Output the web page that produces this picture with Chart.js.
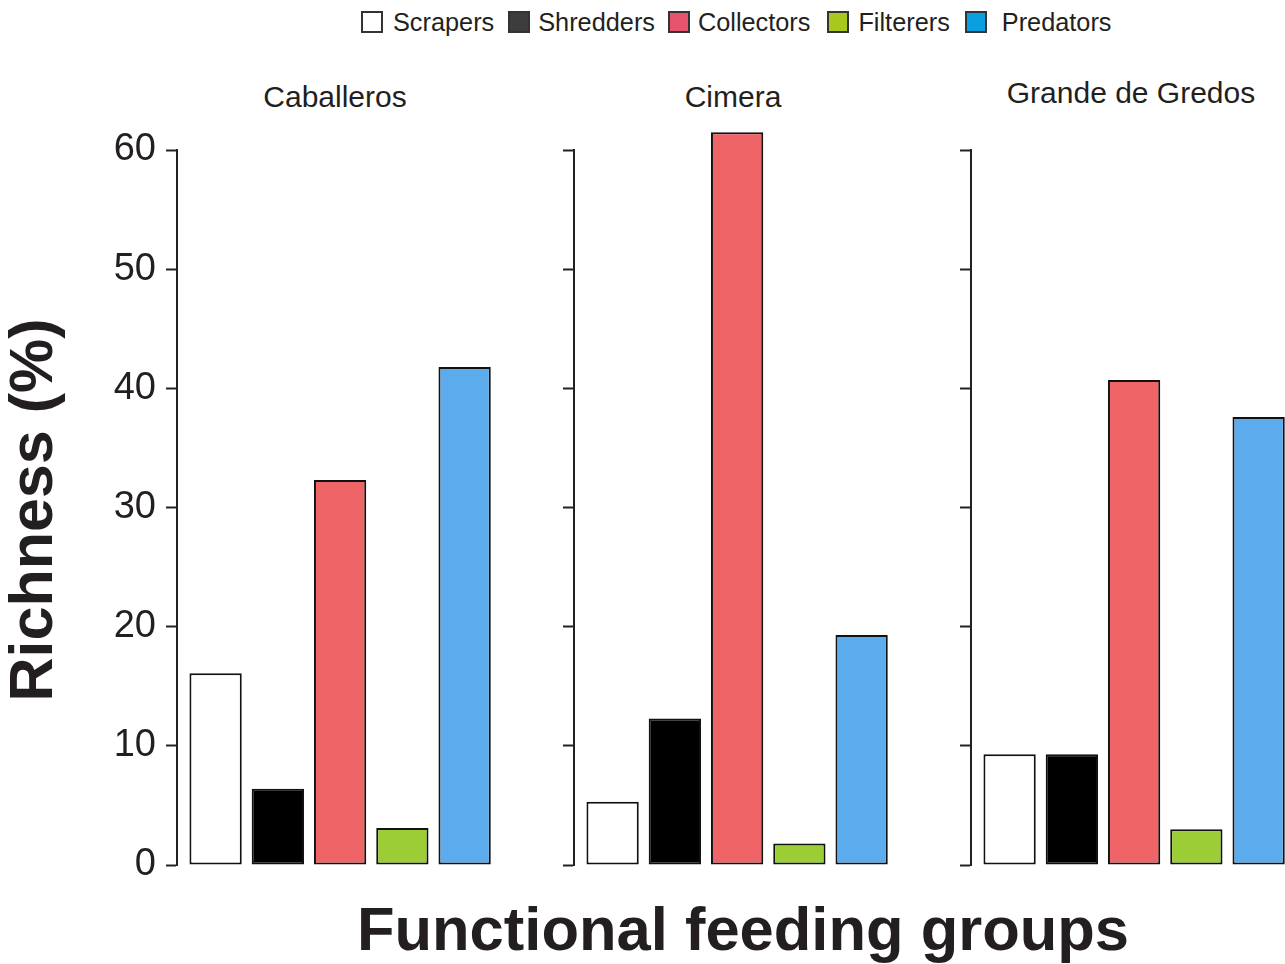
<!DOCTYPE html>
<html>
<head>
<meta charset="utf-8">
<script src="https://cdn.jsdelivr.net/npm/chart.js@4"></script>
<style>
  html, body { margin: 0; padding: 0; background: #fff; overflow: hidden; }
  body { width: 1285px; height: 964px; position: relative; font-family: "Liberation Sans", Arial, sans-serif; color: #231f20; }
  canvas.panel { position: absolute; }
  .txt { position: absolute; white-space: nowrap; }
  .legend { position: absolute; top: 8px; left: 361px; height: 28px; display: flex; align-items: center; font-size: 25.3px; }
  .legend .item { display: flex; align-items: center; }
  .legend .box { width: 18px; height: 18px; border: 2px solid #333; }
</style>
</head>
<body>
<div class="legend" id="legend"></div>
<div class="txt" style="left:335px; top:80px; font-size:30px; transform:translateX(-50%);">Caballeros</div>
<div class="txt" style="left:733px; top:80px; font-size:30px; transform:translateX(-50%);">Cimera</div>
<div class="txt" style="left:1131px; top:76px; font-size:30px; transform:translateX(-50%);">Grande de Gredos</div>
<div class="txt" style="left:31px; top:510px; font-size:61px; font-weight:bold; transform:translate(-50%,-50%) rotate(-90deg);">Richness (%)</div>
<div class="txt" style="left:743px; top:928px; font-size:61.5px; font-weight:bold; transform:translate(-50%,-50%);">Functional feeding groups</div>

<canvas class="panel" id="p0"></canvas>
<canvas class="panel" id="p1"></canvas>
<canvas class="panel" id="p2"></canvas>

<script>
// Datos
const groups = ['Scrapers', 'Shredders', 'Collectors', 'Filterers', 'Predators'];
const sites = ['Caballeros', 'Cimera', 'Grande de Gredos'];
const caballeros = [16.1, 6.4, 32.3, 3.1, 41.8];
const cimera = [5.3, 12.3, 61.5, 1.8, 19.3];
const grandeDeGredos = [9.3, 9.3, 40.7, 3.0, 37.6];
const yTicks = [0, 10, 20, 30, 40, 50, 60];

const barColors = ['#ffffff', '#000000', '#ee6467', '#9ccd34', '#5cabec'];
const legendColors = ['#ffffff', '#3d3d3d', '#e6546c', '#a8c81e', '#0aa0e0'];

// Leyenda
const legendEl = document.getElementById('legend');
const boxGap = [10, 8, 8, 9, 15];
const itemGap = [14, 13, 17, 15, 0];
groups.forEach((g, i) => {
  const item = document.createElement('div');
  item.className = 'item';
  item.style.marginRight = itemGap[i] + 'px';
  item.innerHTML = '<span class="box" style="background:' + legendColors[i] +
    ';margin-right:' + boxGap[i] + 'px"></span><span>' + g + '</span>';
  legendEl.appendChild(item);
});

const values = [caballeros, cimera, grandeDeGredos];
const axisX = [177, 574, 971];  // posición del eje de cada panel

values.forEach((vals, p) => {
  const yWidth = p === 0 ? 120 : 12;
  const canvas = document.getElementById('p' + p);
  canvas.style.left = (axisX[p] - yWidth) + 'px';
  canvas.style.top = '110px';
  canvas.width = yWidth + 320;
  canvas.height = 770;
  canvas.style.width = canvas.width + 'px';
  canvas.style.height = canvas.height + 'px';

  new Chart(canvas.getContext('2d'), {
    type: 'bar',
    data: {
      datasets: [{
        label: sites[p],
        data: vals.map((v, i) => ({ x: i + 1, y: v })),
        backgroundColor: barColors,
        borderColor: '#111',
        borderWidth: 2,
        borderSkipped: false,
        barPercentage: 0.84,
        categoryPercentage: 1,
        clip: false
      }]
    },
    options: {
      responsive: false,
      animation: false,
      layout: { padding: { top: 40, bottom: 15, left: 0, right: 0 } },
      plugins: { legend: { display: false }, tooltip: { enabled: false } },
      scales: {
        x: {
          type: 'linear',
          min: 0.38,
          max: 5.52,
          offset: false,
          display: false
        },
        y: {
          min: 0,
          max: 60,
          afterBuildTicks: s => { s.ticks = yTicks.map(v => ({ value: v })); },
          afterFit: s => { s.width = yWidth; s.paddingTop = 0; s.paddingBottom = 0; },
          ticks: {
            display: true,
            color: p === 0 ? '#231f20' : 'rgba(0,0,0,0)',
            font: { family: '"Liberation Sans", Arial, sans-serif', size: 38 },
            padding: 10
          },
          grid: {
            display: true,
            drawOnChartArea: false,
            drawTicks: true,
            tickLength: 11,
            tickColor: '#222',
            tickWidth: 2
          },
          border: { display: true, color: '#222', width: 2 }
        }
      }
    }
  });
});
</script>
</body>
</html>
